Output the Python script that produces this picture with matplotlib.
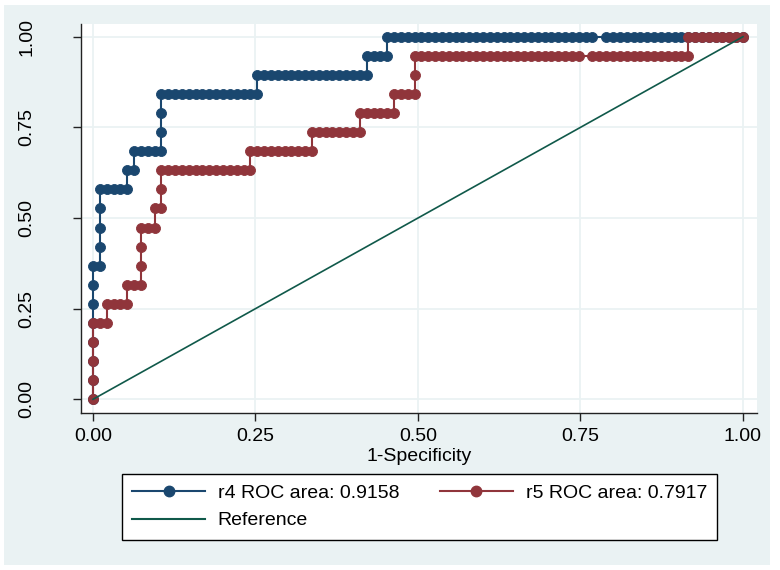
import numpy as np
import matplotlib
matplotlib.use("Agg")
import matplotlib.pyplot as plt
from matplotlib.lines import Line2D
from matplotlib.patches import Rectangle

plt.rcParams['font.family'] = ['Liberation Sans', 'DejaVu Sans']
plt.rcParams['font.size'] = 14

# ROC data: 19 positives, 95 negatives
n_pos = 19
n_neg = 95

# false-positive count where each rise happens, and true-positive count after it
r4_rise_fp = [0, 1, 5, 6, 10, 24, 40, 43]
r4_rise_tp = [7, 11, 12, 13, 16, 17, 18, 19]
r4_tied_fp = [74]   # cutoff shared by two negatives (no marker)

r5_rise_fp = [0, 2, 5, 7, 9, 10, 23, 32, 39, 44, 47, 87]
r5_rise_tp = [4, 5, 6, 9, 10, 12, 13, 14, 15, 16, 18, 19]
r5_tied_fp = [72]

labels = ["r4 ROC area: 0.9158", "r5 ROC area: 0.7917", "Reference"]
ticks = [0, 0.25, 0.5, 0.75, 1.0]

navy = '#1A476F'
maroon = '#90353B'
ref_col = '#10594A'
bg = '#EAF2F3'


def roc_points(rise_fp, rise_tp, tied):
    fp, tp = [0], [0]
    cur_fp, cur_tp = 0, 0
    for f, t in zip(rise_fp + [n_neg], rise_tp + [None]):
        for k in range(cur_fp + 1, f + 1):
            if k in tied:
                continue
            fp.append(k)
            tp.append(cur_tp)
        cur_fp = f
        if t is None:
            break
        for j in range(cur_tp + 1, t + 1):
            fp.append(f)
            tp.append(j)
        cur_tp = t
    return np.array(fp) / n_neg, np.array(tp) / n_pos


fig = plt.figure(figsize=(7.8, 5.7), dpi=100)
fig.patch.set_facecolor('white')
fig.add_artist(Rectangle((4 / 780, 5 / 570), 766 / 780, 560 / 570,
                         transform=fig.transFigure, facecolor=bg,
                         edgecolor='none', zorder=-10))

ax = fig.add_axes([81 / 780, 1 - 412.5 / 570, 676 / 780, 388.5 / 570])
ax.set_facecolor('white')

x4, y4 = roc_points(r4_rise_fp, r4_rise_tp, r4_tied_fp)
x5, y5 = roc_points(r5_rise_fp, r5_rise_tp, r5_tied_fp)

ax.plot(x4, y4, '-o', color=navy, lw=1.5, ms=7.2, mec=navy, mew=0.6, zorder=3)
ax.plot(x5, y5, '-o', color=maroon, lw=1.5, ms=7.2, mec=maroon, mew=0.6, zorder=4)
ax.plot([0, 1], [0, 1], color=ref_col, lw=1.2, zorder=5)

ax.set_xlim(-0.01846, 1.02154)
ax.set_ylim(-0.0364, 1.035)
ax.set_xticks(ticks)
ax.set_yticks(ticks)
ax.set_xticklabels([f"{t:.2f}" for t in ticks])
ax.set_yticklabels([f"{t:.2f}" for t in ticks], rotation=90, va='center')
ax.grid(True, color=bg, lw=1.3, zorder=0)
ax.set_axisbelow(True)

for s in ['top', 'right']:
    ax.spines[s].set_visible(False)
for s in ['left', 'bottom']:
    ax.spines[s].set_color('#222222')
    ax.spines[s].set_linewidth(1.0)
ax.tick_params(axis='both', direction='out', length=6, width=1.0, color='#222222')
ax.tick_params(axis='y', pad=27)
ax.tick_params(axis='x', pad=5)
ax.set_xlabel("1-Specificity", labelpad=2)

handles = [
    Line2D([], [], color=navy, lw=1.5, marker='o', ms=7.5, mec=navy),
    Line2D([], [], color=ref_col, lw=1.5),
    Line2D([], [], color=maroon, lw=1.5, marker='o', ms=7.5, mec=maroon),
]
leg = fig.legend(handles, [labels[0], labels[2], labels[1]], ncol=2,
                 loc='upper left',
                 bbox_to_anchor=(122 / 780, 1 - 474 / 570 - 0.01, 595 / 780, 0.01),
                 mode='expand', borderaxespad=0, frameon=True, fancybox=False,
                 edgecolor='black', framealpha=1, handlelength=3.75,
                 handletextpad=0.65, labelspacing=0.52, borderpad=0.52,
                 numpoints=1)
leg.get_frame().set_linewidth(1.0)

fig.savefig("out.png", dpi=100, facecolor='white')
